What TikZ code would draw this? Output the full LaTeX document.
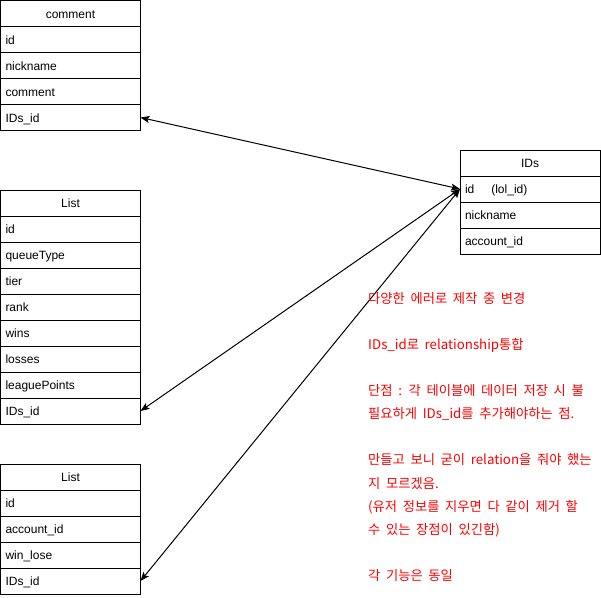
\documentclass[tikz,border=0pt]{standalone}
\usepackage{fontspec}
\setmainfont{Liberation Sans}
\newfontfamily\krfont[WordSpace=1.9]{Noto Sans CJK KR}
\usetikzlibrary{positioning}
\usetikzlibrary{arrows.meta}
\tikzset{
  header/.style = {draw=black, line width=1pt, minimum width=140pt, minimum height=26pt, inner sep=0pt, outer sep=0pt, text height=10.5pt, text depth=1.5pt, font=\fontsize{12}{14}\selectfont},
  field/.style = {header, inner xsep=5pt, text width=130pt, align=left},
  rel/.style = {color=#1, line width=1pt, {Stealth[length=9pt,width=7pt,inset=2pt]}-{Stealth[length=9pt,width=7pt,inset=2pt]}},
  note/.style = {color=#1, inner sep=0pt, anchor=north west, align=left, font={\krfont\fontsize{13.3}{23.1}\selectfont}}
}

\begin{document}
\begin{tikzpicture}[x=1pt, y=-1pt]

    \useasboundingbox (0,0) rectangle (601,597);

    % Tables
    \node[header, anchor=north west] (comment0) at (0.5,0.5) {comment};
    \foreach \f [count=\i, remember=\i as \j (initially 0)] in {id, nickname, comment, IDs\_id}
      \node[field, below=0pt of comment\j] (comment\i) {\f};

    \node[header, anchor=north west] (ids0) at (460,150) {IDs};
    \foreach \f [count=\i, remember=\i as \j (initially 0)] in {id\hspace{17pt}(lol\_id), nickname, account\_id}
      \node[field, below=0pt of ids\j] (ids\i) {\f};

    \node[header, anchor=north west] (list0) at (0.5,190) {List};
    \foreach \f [count=\i, remember=\i as \j (initially 0)] in {id, queueType, tier, rank, wins, losses, leaguePoints, IDs\_id}
      \node[field, below=0pt of list\j] (list\i) {\f};

    \node[header, anchor=north west] (result0) at (0.5,464) {List};
    \foreach \f [count=\i, remember=\i as \j (initially 0)] in {id, account\_id, win\_lose, IDs\_id}
      \node[field, below=0pt of result\j] (result\i) {\f};

    % Relations
    \draw[rel={black}] (comment4.east) -- (ids1.west);
    \draw[rel={black}] (list8.east) -- (ids1.west);
    \draw[rel={black}] (result4.east) -- (ids1.west);

    % Notes
    \node[note={red}] (memo) at (368,292) {%
      다양한 에러로 제작 중 변경\\[23.1pt]
      IDs\_id로 relationship통합\\[23.1pt]
      단점 : 각 테이블에 데이터 저장 시 불\\
      필요하게 IDs\_id를 추가해야하는 점.\\[23.1pt]
      만들고 보니 굳이 relation을 줘야 했는\\
      지 모르겠음.\\
      (유저 정보를 지우면 다 같이 제거 할\\
      수 있는 장점이 있긴함)\\[23.1pt]
      각 기능은 동일};

\end{tikzpicture}
\end{document}
